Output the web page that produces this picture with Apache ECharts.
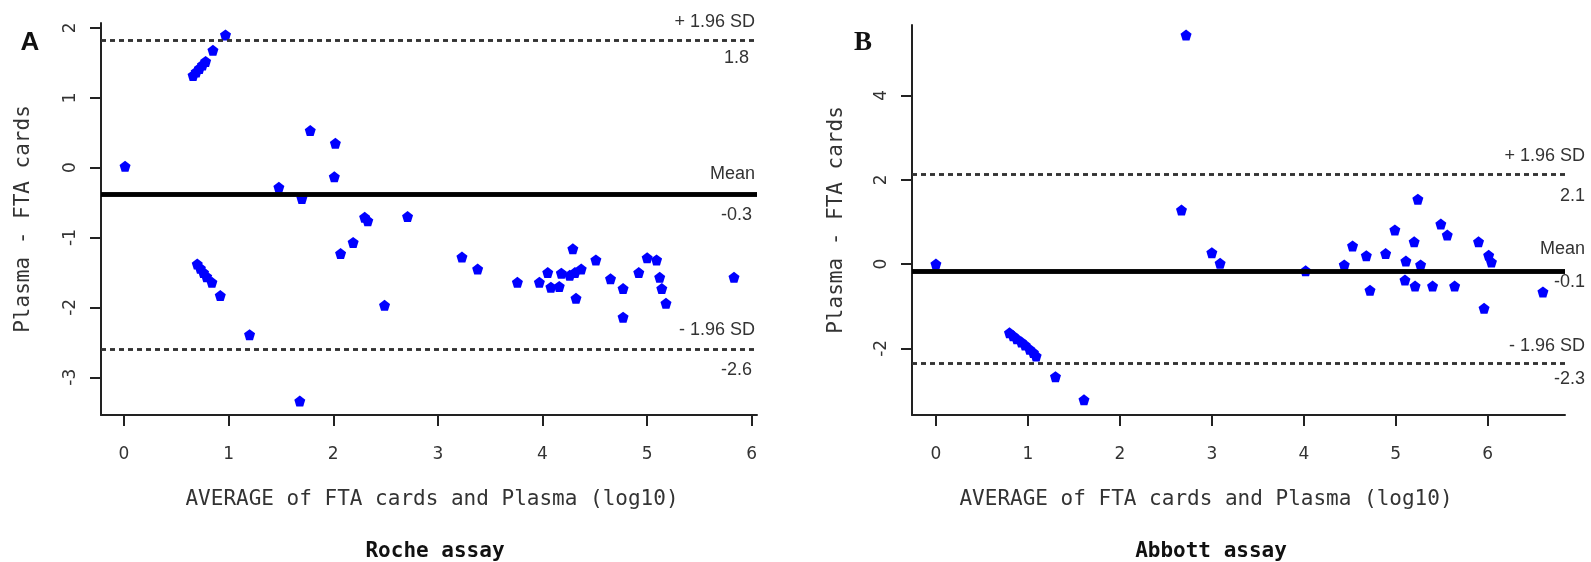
<!DOCTYPE html>
<html>
<head>
<meta charset="utf-8">
<script src="https://cdn.jsdelivr.net/npm/echarts@6/dist/echarts.min.js"></script>
<style>html,body{margin:0;padding:0;background:#fff}#c{width:1591px;height:562px}</style>
</head>
<body>
<div id="c"></div>
<script>
// ---- Data ----
const rocheX = [0.01, 0.66, 0.69, 0.72, 0.75, 0.78, 0.85, 0.97, 1.48, 1.70, 1.78, 2.02, 2.01, 2.30, 2.33, 2.19, 2.07, 2.49, 2.71, 3.23, 3.38, 3.76, 3.97, 4.05, 4.08, 4.16, 4.18, 4.26, 4.31, 4.37, 4.29, 4.32, 4.51, 4.65, 4.77, 4.77, 4.92, 5.00, 5.09, 5.12, 5.14, 5.18, 5.83, 0.70, 0.73, 0.76, 0.79, 0.84, 0.92, 1.20, 1.68];
const rocheY = [0.02, 1.32, 1.37, 1.42, 1.47, 1.52, 1.68, 1.90, -0.28, -0.44, 0.53, 0.35, -0.13, -0.71, -0.76, -1.07, -1.23, -1.97, -0.70, -1.28, -1.45, -1.64, -1.64, -1.50, -1.71, -1.70, -1.51, -1.54, -1.50, -1.45, -1.16, -1.87, -1.32, -1.59, -1.73, -2.14, -1.50, -1.29, -1.32, -1.57, -1.73, -1.94, -1.57, -1.38, -1.44, -1.50, -1.56, -1.64, -1.83, -2.39, -3.34];
const abbottX = [0, 0.80, 0.84, 0.88, 0.93, 0.97, 1.02, 1.06, 1.09, 1.30, 1.61, 2.67, 2.72, 3.00, 3.09, 4.02, 4.44, 4.53, 4.68, 4.72, 4.89, 4.99, 5.10, 5.11, 5.20, 5.21, 5.24, 5.27, 5.40, 5.49, 5.56, 5.64, 5.90, 5.96, 6.01, 6.04, 6.60];
const abbottY = [0, -1.63, -1.70, -1.77, -1.85, -1.92, -2.02, -2.10, -2.18, -2.67, -3.22, 1.28, 5.43, 0.27, 0.02, -0.16, -0.02, 0.43, 0.20, -0.62, 0.25, 0.81, -0.38, 0.07, 0.53, -0.52, 1.54, -0.02, -0.52, 0.95, 0.69, -0.52, 0.53, -1.05, 0.21, 0.05, -0.66];

const rocheLineVals = [1.82, -0.38, -2.60];
const rocheLineTop = ['+ 1.96 SD', 'Mean', '- 1.96 SD'];
const rocheLineBottom = ['1.8', '-0.3', '-2.6'];
const abbottLineVals = [2.13, -0.17, -2.35];
const abbottLineTop = ['+ 1.96 SD', 'Mean', '- 1.96 SD'];
const abbottLineBottom = ['2.1', '-0.1', '-2.3'];

const xTicks = [0, 1, 2, 3, 4, 5, 6];
const rocheYTicks = [-3, -2, -1, 0, 1, 2];
const abbottYTicks = [-2, 0, 2, 4];

const xName = 'AVERAGE of FTA cards and Plasma (log10)';
const yName = 'Plasma - FTA cards';
const titles = ['Roche assay', 'Abbott assay'];
const panelLetters = ['A', 'B'];

// ---- Chart ----
const mono = '"DejaVu Sans Mono", monospace';
const pent = 'path://M0,-10 L9.5,-3.1 L5.9,8.1 L-5.9,8.1 L-9.5,-3.1 Z';

function xAxisCfg(gi, min, max) {
  return {
    type: 'value', gridIndex: gi, min: min, max: max,
    axisLine: {show: true, onZero: false, lineStyle: {color: '#222', width: 2}},
    axisTick: {show: true, customValues: xTicks, length: 11, lineStyle: {color: '#222', width: 2}},
    axisLabel: {customValues: xTicks, margin: 31, fontFamily: '"DejaVu Sans"', fontSize: 17, color: '#333'},
    splitLine: {show: false}
  };
}
function yAxisCfg(gi, min, max, ticks, gap) {
  return {
    type: 'value', gridIndex: gi, min: min, max: max,
    name: yName, nameLocation: 'middle', nameGap: gap, nameRotate: 90,
    nameTextStyle: {fontFamily: mono, fontSize: 21, color: '#333'},
    axisLine: {show: true, onZero: false, lineStyle: {color: '#222', width: 2}},
    axisTick: {show: true, customValues: ticks, length: 11, lineStyle: {color: '#222', width: 2}},
    axisLabel: {customValues: ticks, rotate: 90, margin: 22, fontFamily: '"DejaVu Sans"', fontSize: 17, color: '#333'},
    splitLine: {show: false}
  };
}
const lblFont = {fontFamily: '"Liberation Sans", Arial', fontSize: 18, color: '#333'};
function markLines(vals, tops, bottoms, opts) {
  const data = [];
  vals.forEach((v, i) => {
    const isMean = i === 1;
    const ls = isMean ? {color: '#000', width: 4.5, type: 'solid'} : {color: '#333', width: 2.5, type: [5, 4]};
    data.push({yAxis: v, lineStyle: ls,
      label: Object.assign({show: true, position: 'insideEndTop', formatter: tops[i], distance: opts.top[i]}, lblFont)});
    data.push({yAxis: v, lineStyle: ls,
      label: Object.assign({show: true, position: 'insideEndBottom', formatter: bottoms[i], distance: opts.bottom[i]}, lblFont)});
  });
  return {symbol: 'none', silent: true, animation: false, data: data};
}

const chart = echarts.init(document.getElementById('c'));
chart.setOption({
  animation: false,
  backgroundColor: '#fff',
  grid: [
    {left: 101, right: 1591 - 757, top: 23, bottom: 147},
    {left: 912, right: 1591 - 1565, top: 25, bottom: 147}
  ],
  xAxis: [xAxisCfg(0, -0.22, 6.05), xAxisCfg(1, -0.26, 6.84)],
  yAxis: [yAxisCfg(0, -3.54, 2.07, rocheYTicks, 67), yAxisCfg(1, -3.58, 5.67, abbottYTicks, 65)],
  series: [
    {type: 'scatter', xAxisIndex: 0, yAxisIndex: 0, symbol: pent, symbolSize: 11,
     itemStyle: {color: '#0000ff', opacity: 1}, data: rocheX.map((x, i) => [x, rocheY[i]]),
     markLine: markLines(rocheLineVals, rocheLineTop, rocheLineBottom,
       {top: [[2, 9], [2, 11], [2, 10]], bottom: [[8, 9], [5, 12], [5, 12]]})},
    {type: 'scatter', xAxisIndex: 1, yAxisIndex: 1, symbol: pent, symbolSize: 11,
     itemStyle: {color: '#0000ff', opacity: 1}, data: abbottX.map((x, i) => [x, abbottY[i]]),
     markLine: markLines(abbottLineVals, abbottLineTop, abbottLineBottom,
       {top: [[-20, 9], [-20, 13], [-20, 8]], bottom: [[-20, 13], [-20, 2], [-20, 7]]})}
  ],
  graphic: [
    {type: 'text', x: 432, y: 500, style: {text: xName, align: 'center', verticalAlign: 'middle', font: '21px ' + mono, fill: '#333'}},
    {type: 'text', x: 1206, y: 500, style: {text: xName, align: 'center', verticalAlign: 'middle', font: '21px ' + mono, fill: '#333'}},
    {type: 'text', x: 435, y: 552, style: {text: titles[0], align: 'center', verticalAlign: 'middle', font: 'bold 21px ' + mono, fill: '#111'}},
    {type: 'text', x: 1211, y: 552, style: {text: titles[1], align: 'center', verticalAlign: 'middle', font: 'bold 21px ' + mono, fill: '#111'}},
    {type: 'text', x: 30, y: 43, style: {text: panelLetters[0], align: 'center', verticalAlign: 'middle', font: 'bold 26px "Liberation Sans", Arial', fill: '#111'}},
    {type: 'text', x: 863, y: 43, style: {text: panelLetters[1], align: 'center', verticalAlign: 'middle', font: 'bold 27px "Liberation Serif", serif', fill: '#111'}}
  ]
});
</script>
</body>
</html>
